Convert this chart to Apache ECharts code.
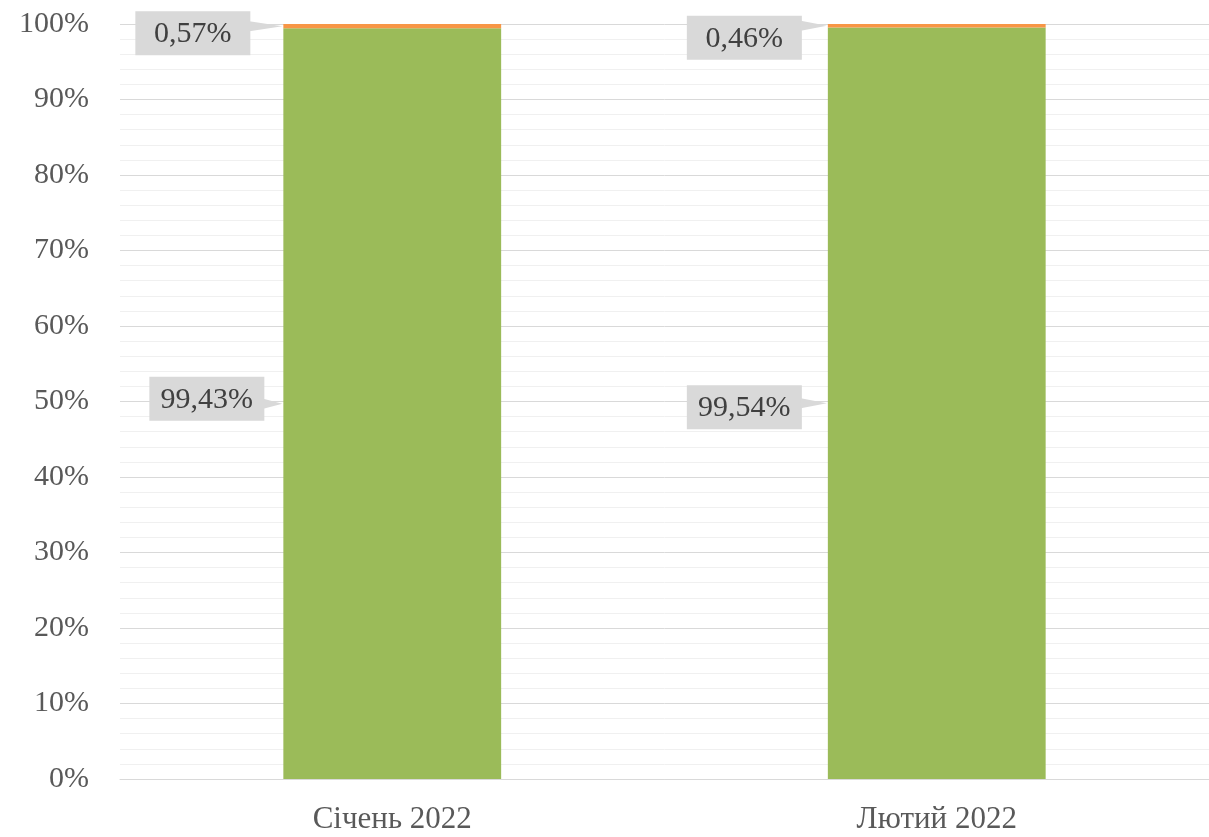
<!DOCTYPE html>
<html>
<head>
<meta charset="utf-8">
<script src="https://cdn.jsdelivr.net/npm/echarts@6/dist/echarts.min.js"></script>
<style>
html,body{margin:0;padding:0;background:#fff;}
#c{width:1209px;height:837px;}
</style>
</head>
<body>
<div id="c"></div>
<script>
// ---- data ----
const categories = ['Січень 2022', 'Лютий 2022'];
const greenValues = [99.43, 99.54];
const orangeValues = [0.57, 0.46];
const yTickFormat = '{value}%';

// ---- styles ----
const FONT = '"Liberation Serif", "Times New Roman", serif';
const GREEN = '#9BBB59';
const ORANGE = '#F79646';
const BOX = '#D9D9D9';
// callout placement per series kind and category (gap to bar, vertical shift of box)
const calloutPlacement = {
  g: [{ gap: 19, dy: -5 }, { gap: 26, dy: 4 }],
  o: [{ gap: 33, dy: 7 }, { gap: 26, dy: 12 }]
};

function fmt(v) { return v.toFixed(2).replace('.', ',') + '%'; }

const callouts = [];
categories.forEach((c, i) => {
  callouts.push({ kind: 'g', cat: i, anchor: greenValues[i] / 2, text: fmt(greenValues[i]) });
  callouts.push({ kind: 'o', cat: i, anchor: greenValues[i] + orangeValues[i] / 2, text: fmt(orangeValues[i]) });
});

const chart = echarts.init(document.getElementById('c'));
const BAR_RATIO = 0.4;

chart.setOption({
  animation: false,
  backgroundColor: '#fff',
  grid: { left: 120, right: 0, top: 24, bottom: 58, outerBoundsMode: 'none' },
  xAxis: {
    type: 'category',
    data: categories,
    axisLine: { show: true, lineStyle: { color: '#D9D9D9', width: 1 } },
    axisTick: { show: false },
    axisLabel: { color: '#595959', fontSize: 31, fontFamily: FONT, margin: 25 }
  },
  yAxis: {
    type: 'value',
    min: 0, max: 100, interval: 10,
    axisLine: { show: false },
    axisTick: { show: false },
    axisLabel: { formatter: yTickFormat, color: '#595959', fontSize: 30, fontFamily: FONT, margin: 31 },
    splitLine: { show: true, lineStyle: { color: '#D9D9D9', width: 1 } },
    minorTick: { show: false, splitNumber: 5 },
    minorSplitLine: { show: true, lineStyle: { color: '#F0F0F0', width: 1 } }
  },
  series: [
    {
      type: 'bar', stack: 's', data: greenValues, barWidth: (BAR_RATIO * 100) + '%',
      itemStyle: { color: GREEN }
    },
    {
      type: 'bar', stack: 's', data: orangeValues, barWidth: (BAR_RATIO * 100) + '%',
      itemStyle: { color: ORANGE }
    },
    {
      type: 'custom',
      z: 10,
      clip: false,
      data: callouts.map(d => [d.cat, d.anchor]),
      renderItem: function (params, api) {
        const d = callouts[params.dataIndex];
        const pl = calloutPlacement[d.kind][d.cat];
        const pt = api.coord([api.value(0), api.value(1)]);
        const band = api.size([1, 0])[0];
        const barLeft = pt[0] - band * BAR_RATIO / 2;
        const w = 115, h = 44;
        const right = barLeft - pl.gap;
        const left = right - w;
        const cy = pt[1] + pl.dy;
        const top = cy - h / 2, bottom = cy + h / 2;
        let bTop = Math.min(Math.max(pt[1] - 5, top + 4), bottom - 14);
        const bBot = bTop + 10;
        return {
          type: 'group',
          children: [
            { type: 'rect', shape: { x: left, y: top, width: w, height: h }, style: { fill: BOX } },
            { type: 'polygon', shape: { points: [[right - 1, bTop], [barLeft - 1, pt[1]], [right - 1, bBot]] }, style: { fill: BOX } },
            { type: 'text', style: { text: d.text, x: left + w / 2, y: cy + 1, align: 'center', verticalAlign: 'middle', fontSize: 30, fontFamily: FONT, fill: '#404040' } }
          ]
        };
      }
    }
  ]
});
</script>
</body>
</html>
